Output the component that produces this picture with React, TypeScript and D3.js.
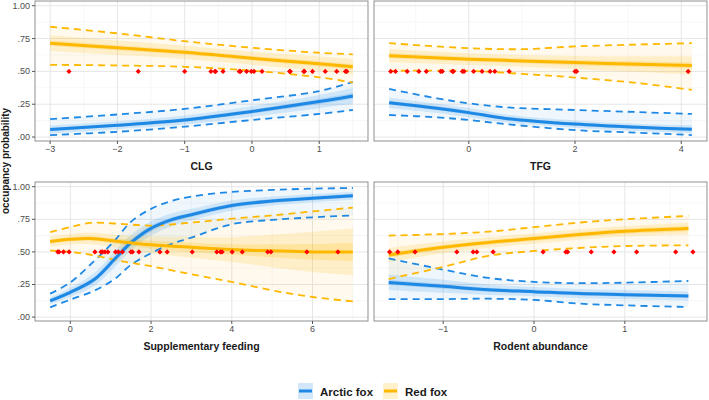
import { useEffect, useRef } from "react";
import * as d3 from "d3";

// row: [x, mean, innerHalfWidth, midHalfWidth, dashedLower, dashedUpper]
type Row = [number, number, number, number, number, number];

const clgArctic: Row[] = [
  [-3, 0.058, 0.012, 0.03, 0.015, 0.137],
  [-2, 0.09, 0.012, 0.03, 0.04, 0.172],
  [-1, 0.13, 0.015, 0.035, 0.079, 0.215],
  [0, 0.195, 0.015, 0.04, 0.13, 0.28],
  [1, 0.27, 0.02, 0.05, 0.176, 0.35],
  [1.5, 0.313, 0.022, 0.06, 0.206, 0.42],
];
const clgRed: Row[] = [
  [-3, 0.715, 0.02, 0.06, 0.55, 0.84],
  [-2, 0.68, 0.02, 0.055, 0.545, 0.79],
  [-1, 0.645, 0.018, 0.05, 0.535, 0.73],
  [0, 0.6, 0.018, 0.05, 0.505, 0.68],
  [1, 0.558, 0.02, 0.055, 0.455, 0.642],
  [1.5, 0.535, 0.022, 0.06, 0.415, 0.63],
];
const clgPoints = [-2.72, -1.69, -1.0, -0.61, -0.55, -0.54, -0.43, -0.19, -0.17, -0.08, -0.01, 0.03, 0.15, 0.56, 0.57, 0.77, 0.78, 0.9, 1.09, 1.26, 1.39, 1.41];

const tfgArctic: Row[] = [
  [-1.5, 0.262, 0.015, 0.04, 0.168, 0.366],
  [-0.6, 0.219, 0.015, 0.035, 0.15, 0.295],
  [0, 0.186, 0.015, 0.035, 0.13, 0.257],
  [0.7, 0.142, 0.013, 0.03, 0.099, 0.227],
  [2, 0.099, 0.012, 0.028, 0.053, 0.206],
  [3.2, 0.074, 0.012, 0.028, 0.033, 0.19],
  [4.2, 0.059, 0.012, 0.03, 0.015, 0.176],
];
const tfgRed: Row[] = [
  [-1.5, 0.62, 0.02, 0.05, 0.504, 0.715],
  [0, 0.593, 0.018, 0.045, 0.504, 0.677],
  [1, 0.58, 0.018, 0.045, 0.481, 0.669],
  [2, 0.567, 0.02, 0.05, 0.453, 0.69],
  [3.2, 0.555, 0.022, 0.06, 0.41, 0.705],
  [4.2, 0.544, 0.025, 0.07, 0.359, 0.715],
];
const tfgPoints = [-1.47, -1.38, -1.16, -0.94, -0.8, -0.53, -0.5, -0.31, -0.29, -0.12, -0.09, 0.09, 0.25, 0.4, 0.49, 0.76, 2.0, 2.03, 4.13];

const suppArctic: Row[] = [
  [-0.5, 0.125, 0.012, 0.025, 0.075, 0.18],
  [0, 0.19, 0.015, 0.035, 0.134, 0.266],
  [0.6, 0.29, 0.02, 0.05, 0.203, 0.433],
  [1.1, 0.445, 0.025, 0.06, 0.292, 0.587],
  [1.5, 0.57, 0.025, 0.06, 0.4, 0.73],
  [2, 0.68, 0.025, 0.055, 0.49, 0.83],
  [2.5, 0.745, 0.02, 0.05, 0.56, 0.89],
  [3, 0.785, 0.018, 0.045, 0.61, 0.925],
  [4, 0.855, 0.017, 0.04, 0.712, 0.96],
  [5, 0.89, 0.016, 0.035, 0.745, 0.975],
  [6, 0.912, 0.015, 0.032, 0.765, 0.985],
  [7, 0.93, 0.015, 0.03, 0.78, 0.99],
];
const suppRed: Row[] = [
  [-0.5, 0.58, 0.015, 0.04, 0.51, 0.652],
  [0, 0.597, 0.015, 0.04, 0.5, 0.69],
  [0.5, 0.603, 0.018, 0.045, 0.478, 0.723],
  [1.2, 0.58, 0.02, 0.05, 0.433, 0.716],
  [2, 0.555, 0.03, 0.065, 0.39, 0.702],
  [3, 0.535, 0.035, 0.08, 0.328, 0.725],
  [4, 0.518, 0.04, 0.095, 0.27, 0.755],
  [5, 0.508, 0.05, 0.125, 0.205, 0.78],
  [6, 0.5, 0.06, 0.155, 0.154, 0.81],
  [7, 0.5, 0.07, 0.18, 0.12, 0.84],
];
const suppPoints = [-0.31, -0.28, -0.17, -0.03, 0.61, 0.76, 0.8, 0.86, 0.93, 1.12, 1.19, 1.29, 1.5, 1.54, 1.7, 2.22, 2.4, 3.02, 3.63, 3.72, 3.76, 4.01, 4.26, 4.89, 4.97, 5.86, 6.63];

const rodentArctic: Row[] = [
  [-1.6, 0.266, 0.02, 0.06, 0.138, 0.45],
  [-1, 0.236, 0.018, 0.05, 0.138, 0.364],
  [-0.5, 0.21, 0.015, 0.04, 0.141, 0.3],
  [0, 0.195, 0.015, 0.035, 0.132, 0.27],
  [0.5, 0.18, 0.015, 0.035, 0.103, 0.26],
  [1, 0.172, 0.015, 0.035, 0.09, 0.264],
  [1.7, 0.161, 0.015, 0.035, 0.077, 0.277],
];
const rodentRed: Row[] = [
  [-1.6, 0.476, 0.02, 0.055, 0.292, 0.625],
  [-1, 0.535, 0.018, 0.045, 0.385, 0.637],
  [-0.5, 0.572, 0.018, 0.04, 0.47, 0.655],
  [0, 0.602, 0.018, 0.04, 0.507, 0.69],
  [0.5, 0.633, 0.018, 0.04, 0.53, 0.725],
  [1, 0.658, 0.02, 0.04, 0.545, 0.75],
  [1.7, 0.679, 0.02, 0.045, 0.55, 0.776],
];
const rodentPoints = [-1.59, -1.5, -1.31, -0.85, -0.67, -0.63, -0.45, 0.1, 0.35, 0.37, 0.63, 0.88, 1.13, 1.56, 1.75];

const yTicks = [0, 0.25, 0.5, 0.75, 1];
const yTickLabels = [".00", ".25", ".50", ".75", "1.00"];
const yMinor = [0.125, 0.375, 0.625, 0.875];

const species = ["Arctic fox", "Red fox"];
const BLUE = "#1E88E5";
const ORANGE = "#FFB800";
const colors = [BLUE, ORANGE];

const panels = [
  { title: "CLG", box: [35, 368, 1, 141], domain: [-3.225, 1.725], ticks: [-3, -2, -1, 0, 1], minor: [-2.5, -1.5, -0.5, 0.5, 1.5], series: [clgArctic, clgRed], points: clgPoints, yAxis: true },
  { title: "TFG", box: [374, 707, 1, 141], domain: [-1.785, 4.485], ticks: [0, 2, 4], minor: [-1, 1, 3], series: [tfgArctic, tfgRed], points: tfgPoints, yAxis: false },
  { title: "Supplementary feeding", box: [35, 368, 182, 321], domain: [-0.875, 7.375], ticks: [0, 2, 4, 6], minor: [1, 3, 5, 7], series: [suppArctic, suppRed], points: suppPoints, yAxis: true },
  { title: "Rodent abundance", box: [374, 707, 182, 321], domain: [-1.762, 1.905], ticks: [-1, 0, 1], minor: [-1.5, -0.5, 0.5, 1.5], series: [rodentArctic, rodentRed], points: rodentPoints, yAxis: false },
];

export default function App() {
  const svgRef = useRef<SVGSVGElement>(null);

  useEffect(() => {
    if (!svgRef.current) return;
    const svg = d3.select(svgRef.current);
    svg.selectAll("*").remove();

    const fmtX = (v: number) => (v < 0 ? "\u2212" + Math.abs(v) : String(v));
    const curve = d3.curveCatmullRom.alpha(0.5);

    panels.forEach((p, pi) => {
      const [x0, x1, y0, y1] = p.box;
      const x = d3.scaleLinear().domain(p.domain).range([x0, x1]);
      const y = d3.scaleLinear().domain([-0.03, 1.036]).range([y1, y0]);
      const g = svg.append("g");
      const clipId = `clip-${pi}`;
      svg.append("clipPath").attr("id", clipId)
        .append("rect").attr("x", x0).attr("y", y0).attr("width", x1 - x0).attr("height", y1 - y0);

      // grid
      const grid = g.append("g");
      yMinor.forEach((v) => grid.append("line").attr("x1", x0).attr("x2", x1).attr("y1", y(v)).attr("y2", y(v)).attr("stroke", "#f2f2f2").attr("stroke-width", 0.6));
      p.minor.forEach((v) => grid.append("line").attr("x1", x(v)).attr("x2", x(v)).attr("y1", y0).attr("y2", y1).attr("stroke", "#f2f2f2").attr("stroke-width", 0.6));
      yTicks.forEach((v) => grid.append("line").attr("x1", x0).attr("x2", x1).attr("y1", y(v)).attr("y2", y(v)).attr("stroke", "#e6e6e6").attr("stroke-width", 1));
      p.ticks.forEach((v) => grid.append("line").attr("x1", x(v)).attr("x2", x(v)).attr("y1", y0).attr("y2", y1).attr("stroke", "#e6e6e6").attr("stroke-width", 1));

      const plot = g.append("g").attr("clip-path", `url(#${clipId})`);
      const band = (lo: (r: Row) => number, hi: (r: Row) => number) =>
        d3.area<Row>().x((r) => x(r[0])).y0((r) => y(lo(r))).y1((r) => y(hi(r))).curve(curve);
      const line = (f: (r: Row) => number) => d3.line<Row>().x((r) => x(r[0])).y((r) => y(f(r))).curve(curve);

      // ribbons
      p.series.forEach((rows, si) => {
        const c = colors[si];
        plot.append("path").datum(rows).attr("d", band((r) => r[4], (r) => r[5])).attr("fill", c).attr("opacity", 0.07);
        plot.append("path").datum(rows).attr("d", band((r) => r[1] - r[3], (r) => r[1] + r[3])).attr("fill", c).attr("opacity", 0.15);
        plot.append("path").datum(rows).attr("d", band((r) => r[1] - r[2], (r) => r[1] + r[2])).attr("fill", c).attr("opacity", 0.2);
      });
      // dashed bounds
      p.series.forEach((rows, si) => {
        [4, 5].forEach((k) => {
          plot.append("path").datum(rows).attr("d", line((r) => r[k])).attr("fill", "none")
            .attr("stroke", colors[si]).attr("stroke-width", 1.8).attr("stroke-dasharray", "7 5");
        });
      });
      // mean lines
      p.series.forEach((rows, si) => {
        plot.append("path").datum(rows).attr("d", line((r) => r[1])).attr("fill", "none")
          .attr("stroke", colors[si]).attr("stroke-width", 3);
      });
      // observed sites (filled diamonds)
      const s = 2.6;
      p.points.forEach((v) => {
        plot.append("path").attr("d", `M0,${-s}L${s},0L0,${s}L${-s},0Z`)
          .attr("transform", `translate(${x(v)},${y(0.5)})`).attr("fill", "#FF0000");
      });

      // border
      g.append("rect").attr("x", x0).attr("y", y0).attr("width", x1 - x0).attr("height", y1 - y0)
        .attr("fill", "none").attr("stroke", "#8f8f8f").attr("stroke-width", 1);

      // x axis
      p.ticks.forEach((v) => {
        g.append("line").attr("x1", x(v)).attr("x2", x(v)).attr("y1", y1).attr("y2", y1 + 3).attr("stroke", "#555");
        g.append("text").attr("x", x(v)).attr("y", y1 + 11).attr("text-anchor", "middle")
          .attr("font-size", 9).attr("fill", "#4d4d4d").text(fmtX(v));
      });
      g.append("text").attr("x", (x0 + x1) / 2).attr("y", y1 + 29).attr("text-anchor", "middle")
        .attr("font-size", 10.5).attr("font-weight", "bold").attr("fill", "#1a1a1a").text(p.title);

      if (p.yAxis) {
        yTicks.forEach((v, i) => {
          g.append("line").attr("x1", x0 - 3).attr("x2", x0).attr("y1", y(v)).attr("y2", y(v)).attr("stroke", "#555");
          g.append("text").attr("x", x0 - 5).attr("y", y(v) + 3).attr("text-anchor", "end")
            .attr("font-size", 9).attr("fill", "#4d4d4d").text(yTickLabels[i]);
        });
      }
    });

    // y title
    svg.append("text").attr("transform", "translate(9,161) rotate(-90)").attr("text-anchor", "middle")
      .attr("font-size", 10).attr("font-weight", "bold").attr("fill", "#1a1a1a").text("occupancy probability");

    // legend
    const legendX = [298, 383];
    species.forEach((name, i) => {
      const lx = legendX[i];
      svg.append("rect").attr("x", lx).attr("y", 383).attr("width", 15).attr("height", 16)
        .attr("fill", colors[i]).attr("opacity", 0.2);
      svg.append("line").attr("x1", lx + 1).attr("x2", lx + 14).attr("y1", 391).attr("y2", 391)
        .attr("stroke", colors[i]).attr("stroke-width", 3);
      svg.append("text").attr("x", lx + 22).attr("y", 395.5).attr("font-size", 11.5)
        .attr("font-weight", "bold").attr("fill", "#1a1a1a").text(name);
    });
  }, []);

  return (
    <svg
      ref={svgRef}
      width={709}
      height={400}
      style={{ position: "absolute", left: 0, top: 0, background: "#fff", fontFamily: "'Liberation Sans', Arial, sans-serif" }}
    />
  );
}
